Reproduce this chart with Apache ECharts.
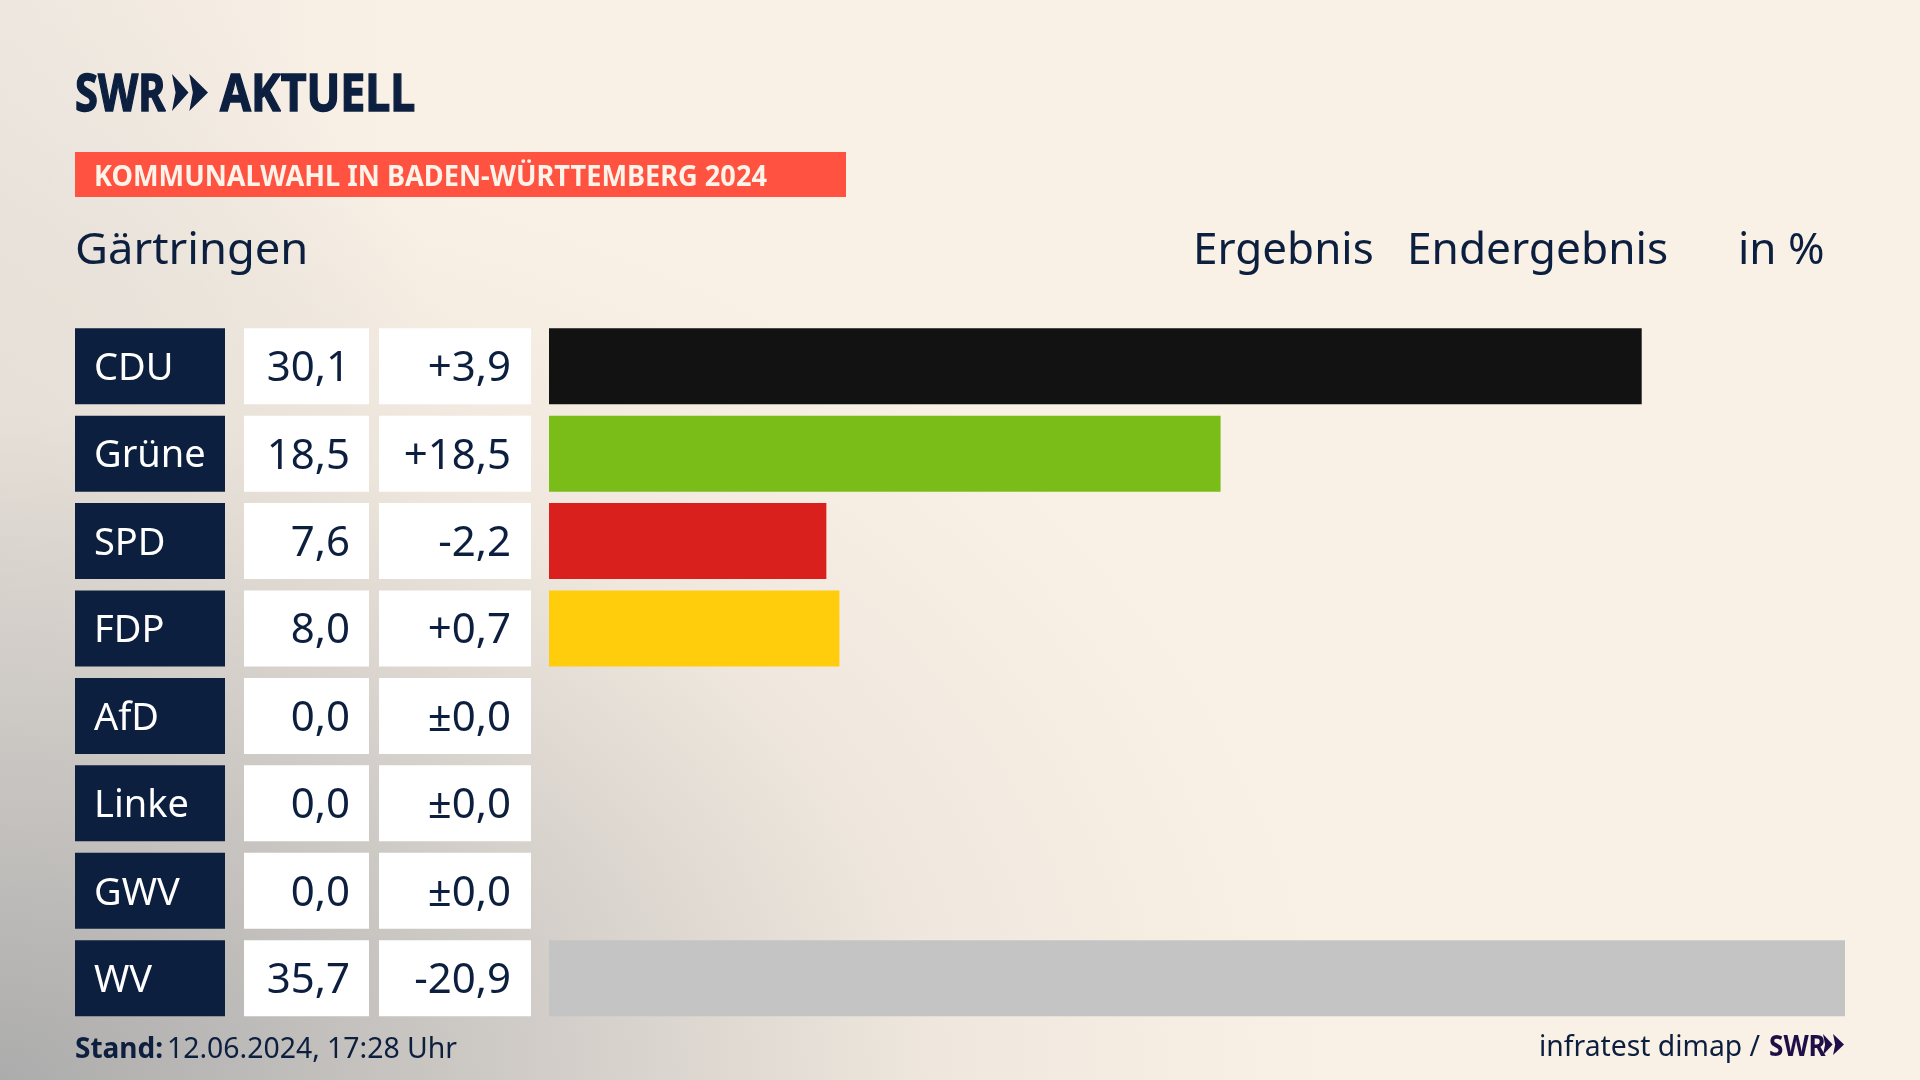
<!DOCTYPE html>
<html>
<head>
<meta charset="utf-8">
<title>Gärtringen</title>
<script src="https://cdn.jsdelivr.net/npm/echarts@6/dist/echarts.min.js"></script>
<style>
  html, body { margin: 0; padding: 0; }
  #chart {
    width: 1920px;
    height: 1080px;
    background:
      radial-gradient(ellipse 1340px 950px at 0 1080px, rgba(172,172,172,1) 0, rgba(204,200,196,.9) 40%, rgba(232,225,216,.6) 70%, rgba(250,241,230,0) 100%),
      radial-gradient(ellipse 500px 720px at 0 640px, rgba(200,197,193,.45) 0, rgba(250,241,230,0) 100%),
      linear-gradient(90deg, #f0e9e1 0, #faf1e6 420px);
  }
</style>
</head>
<body>
<div id="chart"></div>
<script>
const parties = ['CDU', 'Grüne', 'SPD', 'FDP', 'AfD', 'Linke', 'GWV', 'WV']
const results = [30.1, 18.5, 7.64, 8.0, 0.0, 0.0, 0.0, 35.7]
const diffs = [3.9, 18.5, -2.2, 0.7, 0.0, 0.0, 0.0, -20.9]
const barColors = ['#121212', '#7abd19', '#d9201c', '#ffcd0b', '#c4c4c4', '#c4c4c4', '#c4c4c4', '#c4c4c4']

const NAVY = '#0c1f3f'
const PURPLE = '#1f0f47'
const FONT = '"Noto Sans", sans-serif'
const GRID_LEFT = 549

function fmtResult(v) {
  return v.toFixed(1).replace('.', ',')
}
function fmtDiff(v) {
  if (v === 0) return '±0,0'
  return (v > 0 ? '+' : '-') + Math.abs(v).toFixed(1).replace('.', ',')
}

// y is the baseline, zrender only does top/middle/bottom so go via middle
function text(str, x, y, size, opts = {}) {
  return {
    type: 'text',
    x, y: y - size * 0.36,
    scaleX: opts.scaleX || 1,
    scaleY: opts.scaleY || 1,
    silent: true,
    style: {
      text: str,
      x: 0, y: 0,
      fill: opts.fill || NAVY,
      stroke: opts.stroke,
      lineWidth: opts.stroke ? 1.4 : 0,
      font: `${opts.weight || 400} ${size}px ${opts.family || FONT}`,
      align: opts.align || 'left',
      verticalAlign: 'middle'
    }
  }
}

// the two arrow heads of the SWR mark, the first one is smaller
function chevrons(x, y, w, h, fill) {
  const head = (from, notch, tip) => ({
    type: 'polygon',
    silent: true,
    shape: {
      points: [
        [x + w * from, y],
        [x + w * tip, y + h / 2],
        [x + w * from, y + h],
        [x + w * notch, y + h / 2]
      ]
    },
    style: { fill }
  })
  return [head(0, 0.1, 0.46), head(0.48, 0.58, 1)]
}

function renderCells(params, api) {
  const i = api.value(1)
  const [origin, center] = api.coord([0, i])
  const h = 76
  const top = center - h / 2
  const dx = x => x - GRID_LEFT
  const rect = (x, w, fill) => ({
    type: 'rect',
    shape: { x: origin + dx(x), y: top, width: w, height: h },
    style: { fill }
  })
  const label = (str, x, align, fill, size) => ({
    type: 'text',
    style: {
      text: str, x: origin + dx(x), y: center + 3, fill,
      font: `400 ${size}px ${FONT}`, align, verticalAlign: 'middle'
    }
  })
  return {
    type: 'group',
    children: [
      rect(75, 150, NAVY),
      rect(244, 125, '#ffffff'),
      rect(379, 152, '#ffffff'),
      label(parties[i], 94, 'left', '#ffffff', 38),
      label(fmtResult(results[i]), 350, 'right', NAVY, 42),
      label(fmtDiff(diffs[i]), 511, 'right', NAVY, 42)
    ]
  }
}

const chart = echarts.init(document.getElementById('chart'))
chart.setOption({
  animation: false,
  backgroundColor: 'transparent',
  grid: { left: GRID_LEFT, top: 322.5, width: 1296, height: 699.4, containLabel: false },
  xAxis: { type: 'value', min: 0, max: 35.7, show: false },
  yAxis: { type: 'category', data: parties, inverse: true, show: false },
  series: [
    {
      type: 'bar',
      barWidth: 76,
      data: results.map((v, i) => ({ value: v, itemStyle: { color: barColors[i] } }))
    },
    {
      type: 'custom',
      clip: false,
      renderItem: renderCells,
      encode: { x: 0, y: 1 },
      data: parties.map((p, i) => [0, i])
    }
  ],
  graphic: [
    text('SWR', 75, 115, 52, { weight: 700, scaleX: 0.8, stroke: NAVY }),
    ...chevrons(172, 74, 36, 37, NAVY),
    text('AKTUELL', 220, 115, 52, { weight: 700, scaleX: 0.86, stroke: NAVY }),
    { type: 'rect', silent: true, shape: { x: 75, y: 152, width: 771, height: 45 }, style: { fill: '#ff5240' } },
    text('KOMMUNALWAHL IN BADEN-WÜRTTEMBERG 2024', 94, 188, 28, { weight: 700, fill: '#fdf3e9', scaleX: 0.97 }),
    text('Gärtringen', 75, 267, 44, { scaleX: 1.03 }),
    text('Ergebnis', 1193, 267, 44),
    text('Endergebnis', 1407, 267, 44, { scaleX: 1.005 }),
    text('in %', 1738, 267, 44),
    text('Stand:', 75, 1060, 28, { weight: 700 }),
    text('12.06.2024, 17:28 Uhr', 167, 1060, 28.4),
    text('infratest dimap /', 1539, 1058, 28.3),
    text('SWR', 1769, 1058, 29, { weight: 700, fill: PURPLE, scaleX: 0.9 }),
    ...chevrons(1823, 1034, 21, 21, PURPLE)
  ]
})
</script>
</body>
</html>
